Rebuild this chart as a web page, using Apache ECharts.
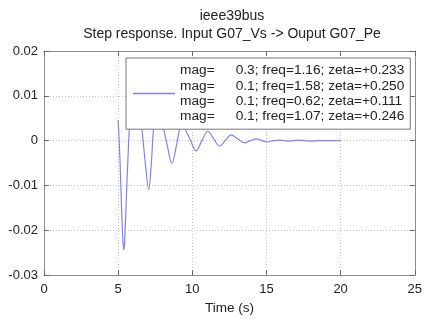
<!DOCTYPE html>
<html>
<head>
<meta charset="utf-8">
<script src="https://cdn.jsdelivr.net/npm/echarts@6/dist/echarts.min.js"></script>
<style>html,body{margin:0;padding:0;background:#fff;}#c{width:425px;height:320px;}</style>
</head>
<body>
<div id="c"></div>
<script>
const titleLines = ['ieee39bus', 'Step response. Input G07_Vs -> Ouput G07_Pe'];
const xAxisName = 'Time (s)';
const legendMag = ['0.3', '0.1', '0.1', '0.1'];
const legendFreq = ['1.16', '1.58', '0.62', '1.07'];
const legendZeta = ['+0.233', '+0.250', '+0.111', '+0.246'];
const timeS = [5.00, 5.12, 5.24, 5.33, 5.38, 5.44, 5.55, 5.66, 5.78, 6.15, 6.57, 6.80, 7.06, 7.24, 7.41, 7.72, 8.02, 8.32, 8.62, 8.92, 9.19, 9.33, 9.48, 9.85, 10.26, 10.65, 11.04, 11.43, 11.83, 12.22, 12.61, 13.06, 13.51, 13.92, 14.33, 14.70, 15.07, 15.46, 15.86, 16.5, 17.2, 17.9, 18.6, 19.3, 20.0];
const response = [0.0046, -0.004, -0.016, -0.0228, -0.0244, -0.0225, -0.013, -0.004, 0.0033, 0.0115, 0.0033, -0.0040, -0.0109, -0.0050, 0.0033, 0.0075, 0.0033, -0.0012, -0.0051, -0.0012, 0.0033, 0.0040, 0.0028, 0.0003, -0.0023, 0.0000, 0.0021, 0.0005, -0.0012, 0.0000, 0.0013, 0.0004, -0.0005, 0.0000, 0.0004, 0.0000, -0.0003, 0.0000, 0.0001, -0.0001, 0.0001, -0.0001, 0.0000, 0.0000, 0.0000];

const FONT = '"Liberation Sans", Arial, sans-serif';
const TXT = '#222';
const AX = '#8c8c8c';
const GRIDC = '#c4c4c4';

const chart = echarts.init(document.getElementById('c'), null, {renderer: 'canvas'});
const seriesData = timeS.map((t, i) => [t, response[i]]);
const legendText = legendMag.map((m, i) => '{a|mag=}{b|' + m + '; freq=' + legendFreq[i] + '; zeta=' + legendZeta[i] + '}').join('\n');

const axCommon = {
  axisLine: {show: true, onZero: false, lineStyle: {color: AX, width: 1}},
  axisTick: {show: true, inside: true, length: 5, lineStyle: {color: '#666'}},
};

chart.setOption({
  animation: false,
  backgroundColor: '#fff',
  textStyle: {fontFamily: FONT},
  title: {
    text: titleLines.join('\n'),
    left: 232, top: 7, padding: 0, textAlign: 'center',
    textStyle: {fontFamily: FONT, fontSize: 14, fontWeight: 'normal', color: TXT, lineHeight: 18}
  },
  grid: {left: 44, right: 9, top: 51, bottom: 40, containLabel: false},
  legend: {
    show: true,
    left: 126, top: 58,
    padding: [5, 6, 5, 7],
    backgroundColor: '#fff',
    borderColor: '#777', borderWidth: 1,
    itemWidth: 42, itemHeight: 1.5,
    icon: 'rect',
    z: 10,
    data: ['response'],
    formatter: () => legendText,
    textStyle: {
      fontFamily: FONT, color: TXT, fontSize: 13.7, lineHeight: 15.3,
      rich: {
        a: {width: 55.7, fontFamily: FONT, fontSize: 13.7, lineHeight: 15.3, color: TXT},
        b: {fontFamily: FONT, fontSize: 13.7, lineHeight: 15.3, color: TXT}
      }
    }
  },
  xAxis: [
    Object.assign({}, axCommon, {
      type: 'value', min: 0, max: 25, interval: 5, position: 'bottom', gridIndex: 0,
      axisLabel: {margin: 8, fontSize: 13, color: TXT, fontFamily: FONT},
      splitLine: {show: true, lineStyle: {color: GRIDC, type: [1, 2], width: 1}},
      name: xAxisName, nameLocation: 'middle', nameGap: 23,
      nameTextStyle: {fontSize: 13.5, color: TXT, fontFamily: FONT}
    }),
    Object.assign({}, axCommon, {
      type: 'value', min: 0, max: 25, interval: 5, position: 'top', gridIndex: 0,
      axisLabel: {show: false}, splitLine: {show: false}
    })
  ],
  yAxis: [
    Object.assign({}, axCommon, {
      type: 'value', min: -0.03, max: 0.02, interval: 0.01, position: 'left', gridIndex: 0,
      axisLabel: {margin: 6, fontSize: 13, color: TXT, fontFamily: FONT,
        formatter: v => Math.abs(v) < 1e-9 ? '0' : v.toFixed(2)},
      splitLine: {show: true, lineStyle: {color: GRIDC, type: [1, 2], width: 1}}
    }),
    Object.assign({}, axCommon, {
      type: 'value', min: -0.03, max: 0.02, interval: 0.01, position: 'right', gridIndex: 0,
      axisLabel: {show: false}, splitLine: {show: false}
    })
  ],
  series: [{
    name: 'response',
    type: 'line',
    xAxisIndex: 0, yAxisIndex: 0,
    data: seriesData,
    showSymbol: false, symbol: 'none',
    smooth: 0.35,
    color: '#8080ff',
    lineStyle: {color: '#8080ff', width: 1.2},
    z: 2
  }]
});
</script>
</body>
</html>
